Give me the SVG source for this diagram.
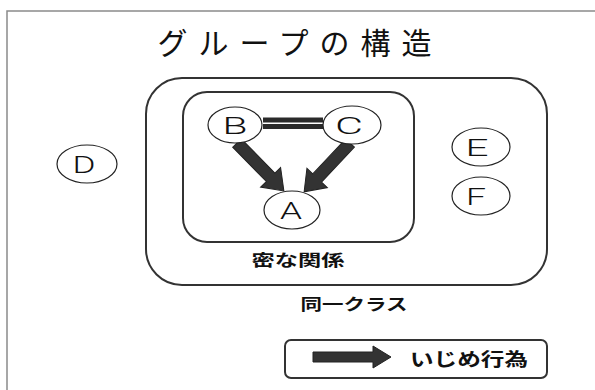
<svg xmlns="http://www.w3.org/2000/svg" xmlns:xlink="http://www.w3.org/1999/xlink" width="595" height="390" viewBox="0 0 595 390">
<style>
.frame{fill:#fff;stroke:#8a8a8a;stroke-width:1.5}
.box{fill:none;stroke:#333;stroke-width:2}
.node{fill:#fff;stroke:#222;stroke-width:1.2}
.letter{font-family:Roboto,"Liberation Sans",sans-serif;font-weight:300;font-size:24px;fill:#111;text-anchor:middle}
.jp{font-family:"Noto Sans CJK JP","Noto Sans",sans-serif;fill:#111;text-anchor:middle}
.lbl{font-size:16px;font-weight:bold}
.title{font-size:30px;font-weight:normal;letter-spacing:11px}
.arrow{fill:#333;stroke:#222;stroke-width:1}
.link{fill:#2a2a2a}
</style>
<defs>
<path id="arr" d="M0,-6 L48,-6 L48,-14 L67,0 L48,14 L48,6 L0,6 Z"/>
</defs>
<rect x="0" y="0" width="595" height="390" fill="#fff"/>
<rect class="frame" x="7" y="11" width="620" height="420"/>
<text class="jp title" x="300" y="54">グループの構造</text>
<g id="class">
<rect class="box" x="146" y="78" width="401" height="207" rx="36" ry="36"/>
<text class="jp lbl" x="354" y="310" textLength="107" lengthAdjust="spacingAndGlyphs">同一クラス</text>
</g>
<g id="close">
<rect class="box" x="183" y="92" width="231" height="150" rx="24" ry="24"/>
<text class="jp lbl" x="298" y="266" textLength="93" lengthAdjust="spacingAndGlyphs">密な関係</text>
</g>
<g id="connectors">
<rect class="link" x="263" y="117.5" width="60" height="5"/>
<rect class="link" x="263" y="124" width="60" height="5"/>
<use xlink:href="#arr" class="arrow" transform="translate(237,143) rotate(45.6)"/>
<use xlink:href="#arr" class="arrow" transform="translate(350,143) rotate(133.2)"/>
</g>
<g id="B"><ellipse class="node" cx="235" cy="125" rx="27" ry="18"/><text class="letter" x="235" y="133.5" textLength="25" lengthAdjust="spacingAndGlyphs">B</text></g>
<g id="C"><ellipse class="node" cx="352" cy="125" rx="29" ry="19"/><text class="letter" x="349" y="133.5" textLength="28" lengthAdjust="spacingAndGlyphs">C</text></g>
<g id="A"><ellipse class="node" cx="292" cy="210" rx="28" ry="19"/><text class="letter" x="291" y="218.5" textLength="22" lengthAdjust="spacingAndGlyphs">A</text></g>
<g id="D"><ellipse class="node" cx="87" cy="164" rx="30" ry="19"/><text class="letter" x="84" y="172.5" textLength="23" lengthAdjust="spacingAndGlyphs">D</text></g>
<g id="E"><ellipse class="node" cx="481" cy="147" rx="29" ry="19"/><text class="letter" x="477" y="155.5" textLength="23" lengthAdjust="spacingAndGlyphs">E</text></g>
<g id="F"><ellipse class="node" cx="481" cy="196" rx="29" ry="19"/><text class="letter" x="476" y="204.5" textLength="20" lengthAdjust="spacingAndGlyphs">F</text></g>
<g id="legend">
<rect class="box" x="285" y="340" width="262" height="38" rx="6" ry="6"/>
<path class="arrow" d="M313,352 L373,352 L373,346 L391,357 L373,368 L373,362 L313,362 Z"/>
<text class="jp lbl" x="469" y="366" style="font-size:18px" textLength="118" lengthAdjust="spacingAndGlyphs">いじめ行為</text>
</g>
</svg>
